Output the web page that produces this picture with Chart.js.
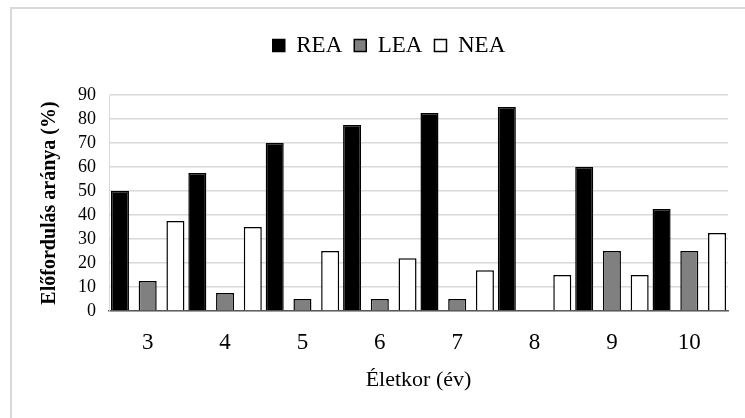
<!DOCTYPE html>
<html>
<head>
<meta charset="utf-8">
<script src="https://cdn.jsdelivr.net/npm/chart.js@4/dist/chart.umd.min.js"></script>
<style>
	html, body { margin: 0; padding: 0; background: #fff; }
	#frame { position: absolute; left: 10px; top: 7px; width: 800px; height: 500px; border: 2px solid #d9d9d9; }
	#wrap { position: absolute; left: 0; top: 0; width: 745px; height: 418px; }
</style>
</head>
<body>
<div id="frame"></div>
<div id="wrap"><canvas id="myChart"></canvas></div>
<script>
const ages = ['3', '4', '5', '6', '7', '8', '9', '10'];
const rea = [50, 57.5, 70, 77.5, 82.5, 85, 60, 42.5];
const lea = [12.5, 7.5, 5, 5, 5, 0, 25, 25];
const nea = [37.5, 35, 25, 22, 17, 15, 15, 32.5];

const serif = "'Liberation Serif', 'Times New Roman', serif";

// extra room under the legend, and nudge it a bit to the right
const legendGap = {
	id: 'legendGap',
	beforeInit(chart) {
		const legend = chart.legend;
		const fit = legend.fit;
		legend.fit = function () {
			fit.apply(legend, arguments);
			this.height += 28;
		};
		const draw = legend.draw;
		legend.draw = function () {
			const c = legend.ctx;
			c.save();
			c.translate(7, 0);
			draw.apply(legend, arguments);
			c.restore();
		};
	}
};

var ctx = document.getElementById('myChart').getContext('2d');
var myChart = new Chart(ctx, {
	type: 'bar',
	data: {
		labels: ages,
		datasets: [
			{ label: 'REA', data: rea, backgroundColor: '#000000', borderColor: '#000000', borderWidth: 1.5 },
			{ label: 'LEA', data: lea, backgroundColor: '#808080', borderColor: '#000000', borderWidth: 1.5 },
			{ label: 'NEA', data: nea, backgroundColor: '#ffffff', borderColor: '#000000', borderWidth: 1.5 }
		]
	},
	options: {
		responsive: true,
		maintainAspectRatio: false,
		animation: false,
		categoryPercentage: 1.075,
		barPercentage: 0.65,
		layout: { padding: { top: 22, left: 36, right: 17, bottom: 25 } },
		plugins: {
			legend: {
				position: 'top',
				labels: {
					color: '#000',
					font: { family: serif, size: 23 },
					boxWidth: 12,
					boxHeight: 12,
					padding: 12
				}
			},
			tooltip: { enabled: false }
		},
		scales: {
			x: {
				grid: { display: false, drawTicks: false },
				border: { color: '#595959', width: 1.5 },
				ticks: { color: '#000', font: { family: serif, size: 23 }, padding: 18, autoSkip: false, maxRotation: 0 },
				title: { display: true, text: 'Életkor (év)', color: '#000', font: { family: serif, size: 22 }, padding: { top: -8, bottom: 0 } }
			},
			y: {
				min: 0,
				max: 90,
				grid: { color: '#d9d9d9', lineWidth: 1.5, drawTicks: false },
				border: { color: '#d9d9d9', width: 1 },
				ticks: { stepSize: 10, color: '#000', font: { family: serif, size: 18 }, padding: 13, autoSkip: false },
				title: { display: true, text: 'Előfordulás aránya (%)', color: '#000', font: { family: serif, size: 20, weight: 'bold' }, padding: { top: 2, bottom: 3 } }
			}
		}
	},
	plugins: [legendGap]
});
</script>
</body>
</html>
